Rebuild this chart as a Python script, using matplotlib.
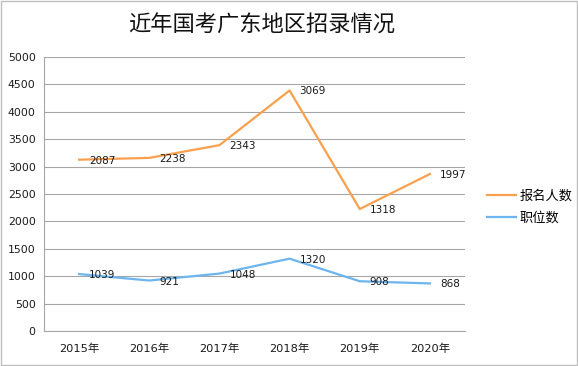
import numpy as np
import matplotlib
matplotlib.use('Agg')
import matplotlib.pyplot as plt
from matplotlib.patches import Rectangle

plt.rcParams['font.family'] = ['DejaVu Sans', 'Noto Sans CJK SC']

# data (stacked line chart: orange plotted on top of blue)
years = ['2015年', '2016年', '2017年', '2018年', '2019年', '2020年']
positions = [1039, 921, 1048, 1320, 908, 868]      # 职位数
applicants = [2087, 2238, 2343, 3069, 1318, 1997]  # 报名人数
yticks = np.arange(0, 5001, 500)

orange = '#F9A04E'
blue = '#6CB5EE'
grid_c = '#A6A6A6'

fig = plt.figure(figsize=(5.78, 3.66), dpi=100)
ax = fig.add_axes([44/578, 1 - 331/366, (465-44)/578, (331-57)/366])

x = np.arange(len(years))
stacked = np.array(positions) + np.array(applicants)

ax.plot(x, stacked, color=orange, lw=1.6, label='报名人数')
ax.plot(x, positions, color=blue, lw=1.6, label='职位数')

# data labels, right of each point
for xi, yi, v in zip(x, stacked, applicants):
    ax.annotate(str(v), (xi, yi), xytext=(10, -1), textcoords='offset pixels',
                ha='left', va='center', fontsize=7.5, color='#1a1a1a')
for xi, yi, v in zip(x, positions, positions):
    ax.annotate(str(v), (xi, yi), xytext=(10, -1), textcoords='offset pixels',
                ha='left', va='center', fontsize=7.5, color='#1a1a1a')

ax.set_xlim(-0.5, len(years) - 0.5)
ax.set_ylim(0, 5000)
ax.set_yticks(yticks)
ax.set_yticklabels([str(t) for t in yticks], fontsize=7.8, color='#1a1a1a')
ax.set_xticks(x)
ax.set_xticklabels(years, fontsize=8.2, color='#1a1a1a',
                   fontfamily=['DejaVu Sans', 'Noto Sans CJK SC'])
ax.tick_params(length=0, pad=6)
ax.tick_params(axis='x', pad=9)

ax.grid(axis='y', color=grid_c, lw=0.8)
ax.set_axisbelow(True)
for s in ['top', 'right']:
    ax.spines[s].set_visible(False)
ax.spines['left'].set_color(grid_c)
ax.spines['bottom'].set_color(grid_c)

fig.text(262/578, 1 - 25/366, '近年国考广东地区招录情况', ha='center', va='center',
         fontsize=16, fontfamily='Noto Sans CJK SC', color='#111111')

leg = fig.legend(loc='upper left', bbox_to_anchor=(475/578, 1 - 178/366),
                 frameon=False, handlelength=2.2, handletextpad=0.3, labelspacing=0.7,
                 prop={'family': 'Noto Sans CJK SC', 'size': 9.5})

# outer chart border
fig.patches.append(Rectangle((0.001, 0.002), 0.997, 0.996, transform=fig.transFigure,
                             fill=False, edgecolor='#BFBFBF', lw=1))

fig.savefig('out.png', dpi=100)
